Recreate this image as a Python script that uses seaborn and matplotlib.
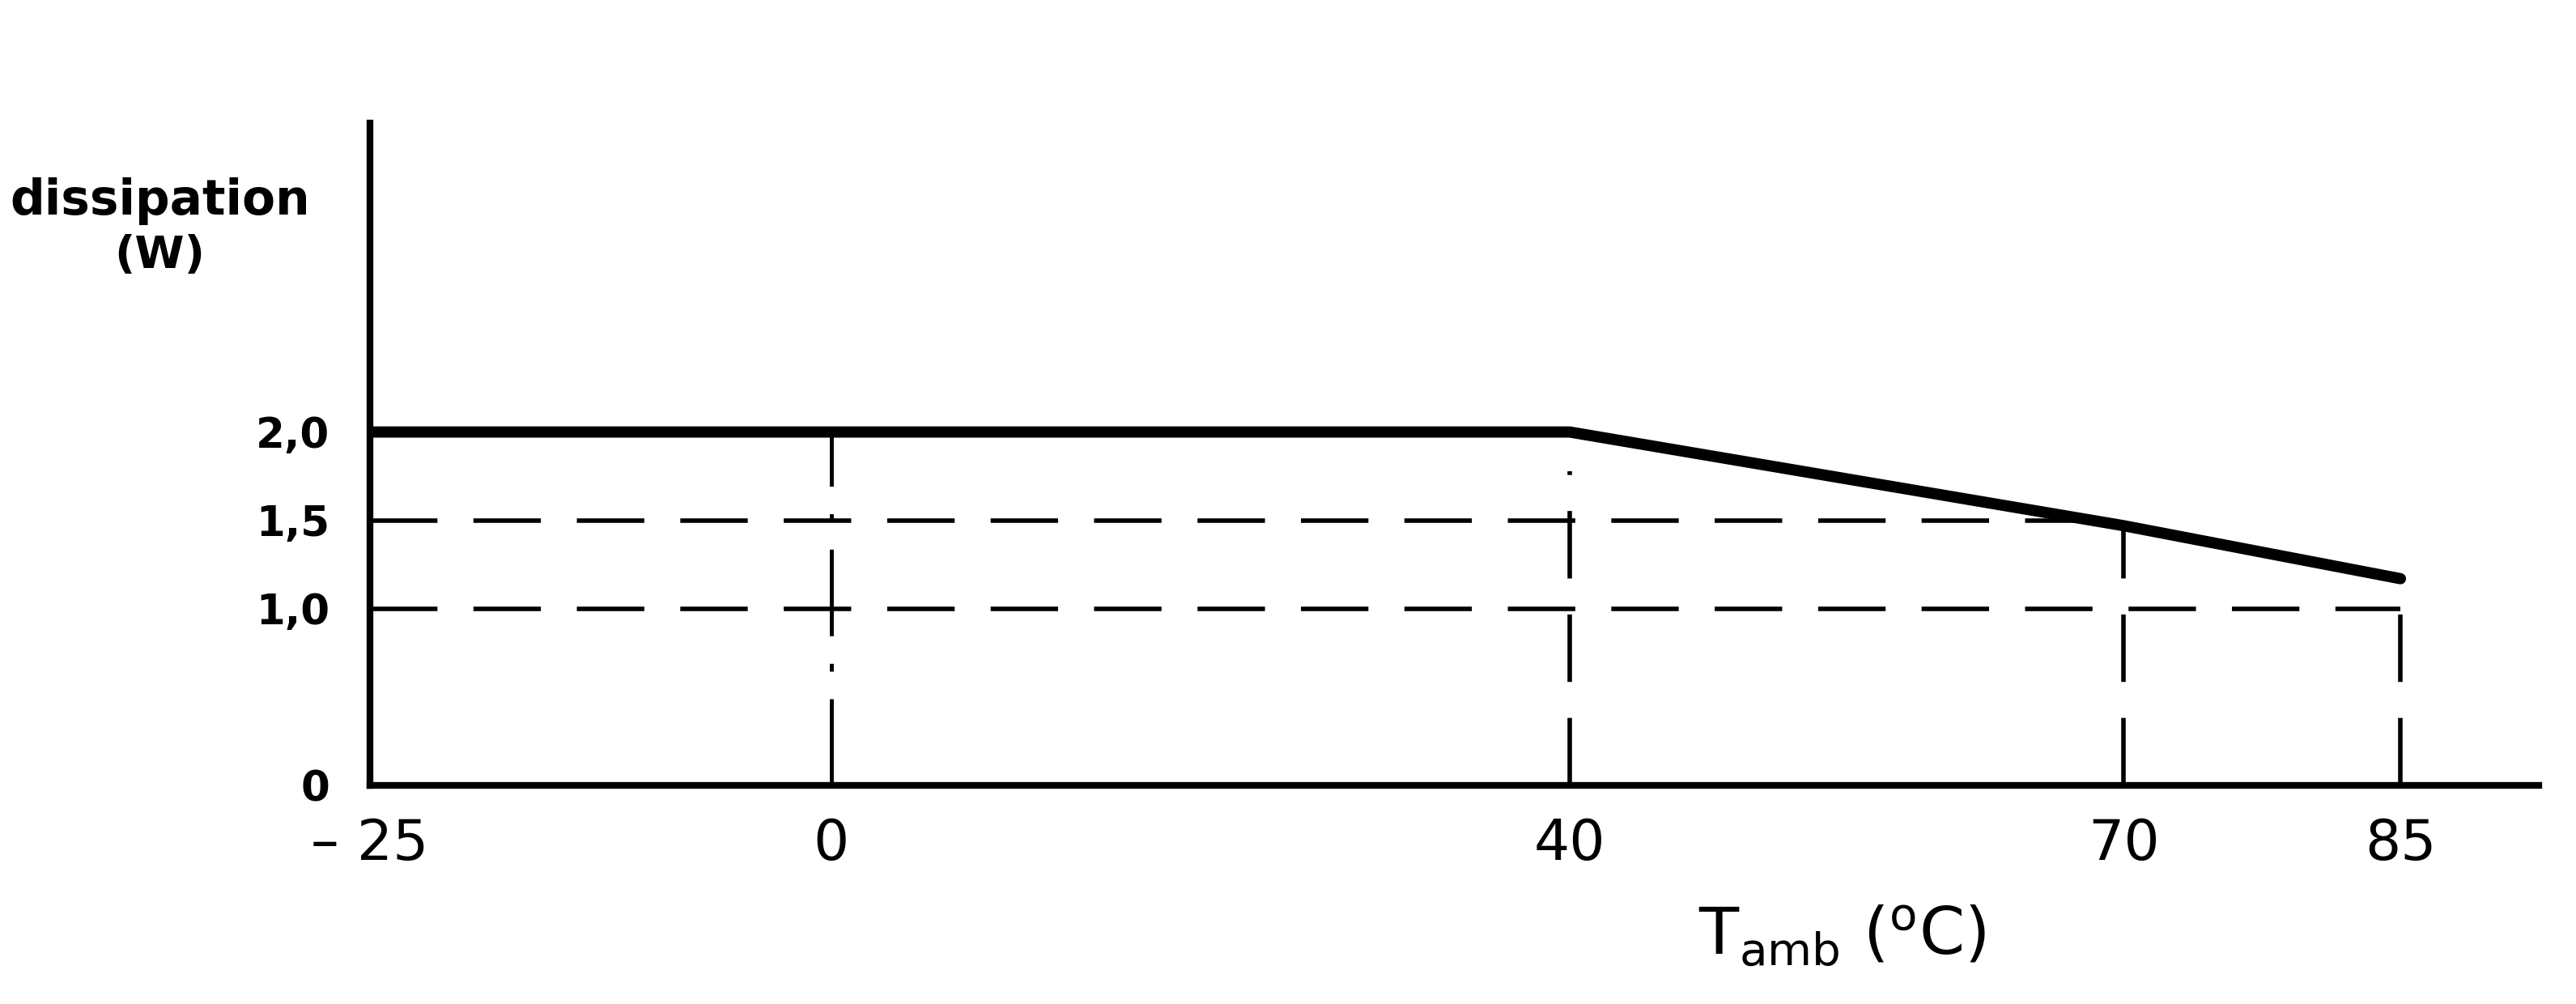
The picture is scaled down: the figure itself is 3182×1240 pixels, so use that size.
import pandas as pd
import numpy as np
import seaborn as sb
import matplotlib.pyplot as plt

# derating curve values
temp = [-25, 40, 70, 85]
power = [2.0, 2.0, 1.47, 1.17]

x_ticks = [-25, 0, 40, 70, 85]
x_labels = ["\u2013 25", "0", "40", "70", "85"]
y_ticks = [0, 1.0, 1.5, 2.0]
y_labels = ["0", "1,0", "1,5", "2,0"]

# helper lines: horizontal (x start, x end, y), vertical (x, y start, y end)
h_lines = [(-25, 70, 1.5), (-25, 85, 1.0)]
v_lines = [(40, 0, 1.78), (70, 0, 1.47), (85, 0, 1.0)]
v_dashdot = [(0, 0, 2.0)]

sb.set_theme(style="white")
plt.rcParams['font.family'] = ['DejaVu Sans']
plt.rcParams['text.color'] = 'black'
plt.rcParams['xtick.color'] = 'black'
plt.rcParams['ytick.color'] = 'black'

fig = plt.figure(figsize=(31.82, 12.4), dpi=100)
ax = fig.add_axes([0.1436, 0.2177, 0.842, 0.66])

curve = pd.DataFrame({"T": temp, "P": power})
sb.lineplot(data=curve, x="T", y="P", color="black", linewidth=10, ax=ax)

for x0, x1, y in h_lines:
    ax.plot([x0, x1], [y, y], color="black", linewidth=4, dashes=(15, 8))
for x, y0, y1 in v_lines:
    ax.plot([x, x], [y0, y1], color="black", linewidth=4, dashes=(15, 8))
for x, y0, y1 in v_dashdot:
    ax.plot([x, x], [y0, y1], color="black", linewidth=3.5, dashes=(22, 7, 2, 7))

ax.set_xlim(-25, 92.5)
ax.set_ylim(0, 3.75)
ax.set_xticks(x_ticks)
ax.set_xticklabels(x_labels, fontsize=50)
ax.set_yticks(y_ticks)
ax.set_yticklabels(y_labels, fontsize=37, fontweight="bold")
ax.tick_params(axis="both", length=0)
ax.tick_params(axis="x", pad=28)
ax.tick_params(axis="y", pad=36)
ax.set_xlabel("")
ax.set_ylabel("")

sb.despine(ax=ax)
for s in ["left", "bottom"]:
    ax.spines[s].set_color("black")
    ax.spines[s].set_linewidth(6)

fig.text(0.062, 0.80, "dissipation", fontsize=43, fontweight="bold", ha="center", va="center")
fig.text(0.062, 0.745, "(W)", fontsize=40, fontweight="bold", ha="center", va="center")
fig.text(0.715, 0.068, r"T$_{\mathrm{amb}}$ ($^{\mathrm{o}}$C)", fontsize=58, ha="center", va="center")

plt.savefig("out.png", dpi=100)
